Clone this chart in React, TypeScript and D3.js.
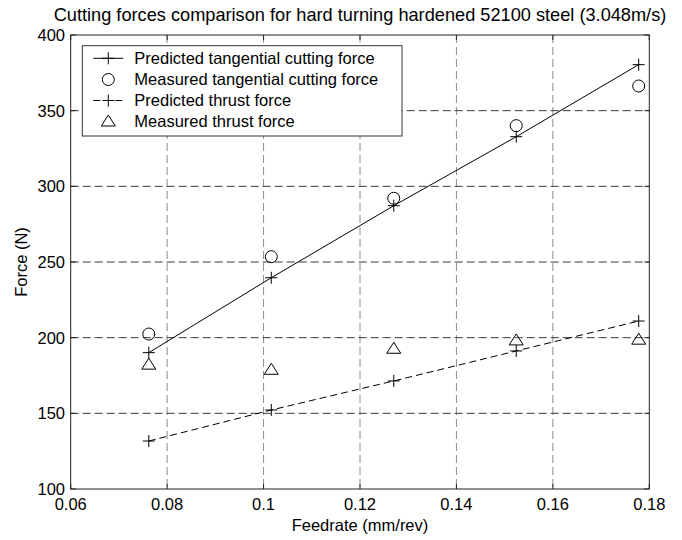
import React from "react";
import * as d3 from "d3";

const feedrates = [0.0762, 0.1016, 0.127, 0.1524, 0.1778];
const predictedTangential = [190.1, 239.6, 287.2, 332.8, 380.4];
const measuredTangential = [202.4, 253.5, 292.1, 340.1, 366.3];
const predictedThrust = [131.7, 152.2, 171.4, 191.2, 211.0];
const measuredThrust = [182.5, 179.1, 193.0, 198.5, 199.0];
const xTicks = [0.06, 0.08, 0.1, 0.12, 0.14, 0.16, 0.18];
const yTicks = [100, 150, 200, 250, 300, 350, 400];
const legendLabels = [
  "Predicted tangential cutting force",
  "Measured tangential cutting force",
  "Predicted thrust force",
  "Measured thrust force",
];

const W = 682, H = 540;
const L = 70.7, R = 649.3, T = 35, B = 489;
const FONT = "'Liberation Sans', Arial, Helvetica, sans-serif";
const FS = 16.5;

function Plus({ x, y }: { x: number; y: number }) {
  const s = 6;
  return (
    <g stroke="#000" strokeWidth={1} fill="none">
      <line x1={x - s} x2={x + s} y1={y} y2={y} />
      <line x1={x} x2={x} y1={y - s} y2={y + s} />
    </g>
  );
}
function Circle({ x, y }: { x: number; y: number }) {
  return <circle cx={x} cy={y} r={6} fill="none" stroke="#000" strokeWidth={1} />;
}
function Tri({ x, y }: { x: number; y: number }) {
  const w = 7, h = 10;
  return (
    <path
      d={`M${x},${y - h / 2 - 1}L${x + w},${y + h / 2}L${x - w},${y + h / 2}Z`}
      fill="none"
      stroke="#000"
      strokeWidth={1}
    />
  );
}

export default function App() {
  const x = d3.scaleLinear().domain([0.06, 0.18]).range([L, R]);
  const y = d3.scaleLinear().domain([100, 400]).range([B, T]);
  const line = d3
    .line<number>()
    .x((_, i) => x(feedrates[i]))
    .y((d) => y(d));

  const lx = 108.3;
  const legendY = [58.3, 79.5, 100.5, 121];

  return (
    <div style={{ position: "absolute", left: 0, top: 0 }}>
      <svg width={W} height={H} style={{ display: "block", background: "#fff" }} fontFamily={FONT}>
        <rect x={0} y={0} width={W} height={H} fill="#fff" />
        {/* grid */}
        {xTicks.slice(1, -1).map((t) => (
          <line key={"gx" + t} x1={x(t)} x2={x(t)} y1={T} y2={B} stroke="#8a8a8a" strokeWidth={1} strokeDasharray="8,4" />
        ))}
        {yTicks.slice(1, -1).map((t) => (
          <line key={"gy" + t} x1={L} x2={R} y1={y(t)} y2={y(t)} stroke="#3a3a3a" strokeWidth={1} strokeDasharray="8,4" />
        ))}
        {/* axes box */}
        <rect x={L} y={T} width={R - L} height={B - T} fill="none" stroke="#222" strokeWidth={1} />
        {/* ticks */}
        {xTicks.map((t) => (
          <g key={"tx" + t} stroke="#222">
            <line x1={x(t)} x2={x(t)} y1={B} y2={B - 5} />
            <line x1={x(t)} x2={x(t)} y1={T} y2={T + 5} />
          </g>
        ))}
        {yTicks.map((t) => (
          <g key={"ty" + t} stroke="#222">
            <line x1={L} x2={L + 5} y1={y(t)} y2={y(t)} />
            <line x1={R} x2={R - 5} y1={y(t)} y2={y(t)} />
          </g>
        ))}
        {/* tick labels */}
        {xTicks.map((t) => (
          <text key={"lx" + t} x={x(t)} y={510} textAnchor="middle" fontSize={FS} fill="#000">
            {d3.format("~g")(t)}
          </text>
        ))}
        {yTicks.map((t) => (
          <text key={"ly" + t} x={65} y={y(t) + 6} textAnchor="end" fontSize={FS} fill="#000">
            {t}
          </text>
        ))}
        {/* labels */}
        <text x={(L + R) / 2} y={531} textAnchor="middle" fontSize={FS} fill="#000">
          Feedrate (mm/rev)
        </text>
        <text transform={`translate(27,${(T + B) / 2}) rotate(-90)`} textAnchor="middle" fontSize={FS} fill="#000">
          Force (N)
        </text>
        <text x={(L + R) / 2} y={21} textAnchor="middle" fontSize={18.2} fill="#000">
          Cutting forces comparison for hard turning hardened 52100 steel (3.048m/s)
        </text>
        {/* data lines */}
        <path d={line(predictedTangential) || ""} fill="none" stroke="#000" strokeWidth={1} />
        <path d={line(predictedThrust) || ""} fill="none" stroke="#000" strokeWidth={1} strokeDasharray="7,4" />
        {predictedTangential.map((v, i) => (
          <Plus key={"pt" + i} x={x(feedrates[i])} y={y(v)} />
        ))}
        {measuredTangential.map((v, i) => (
          <Circle key={"mt" + i} x={x(feedrates[i])} y={y(v)} />
        ))}
        {predictedThrust.map((v, i) => (
          <Plus key={"pth" + i} x={x(feedrates[i])} y={y(v)} />
        ))}
        {measuredThrust.map((v, i) => (
          <Tri key={"mth" + i} x={x(feedrates[i])} y={y(v)} />
        ))}
        {/* legend */}
        <rect x={82.3} y={45.7} width={402 - 82.3} height={136 - 45.7} fill="#fff" stroke="#333" strokeWidth={1} />
        <line x1={93.3} x2={123.3} y1={legendY[0]} y2={legendY[0]} stroke="#000" />
        <Plus x={lx} y={legendY[0]} />
        <Circle x={lx} y={legendY[1]} />
        <line x1={93.3} x2={123.3} y1={legendY[2]} y2={legendY[2]} stroke="#000" strokeDasharray="7,4" />
        <Plus x={lx} y={legendY[2]} />
        <Tri x={lx} y={legendY[3]} />
        {legendLabels.map((s, i) => (
          <text key={s} x={134.3} y={legendY[i] + 5.7} fontSize={FS} fill="#000">
            {s}
          </text>
        ))}
      </svg>
    </div>
  );
}
